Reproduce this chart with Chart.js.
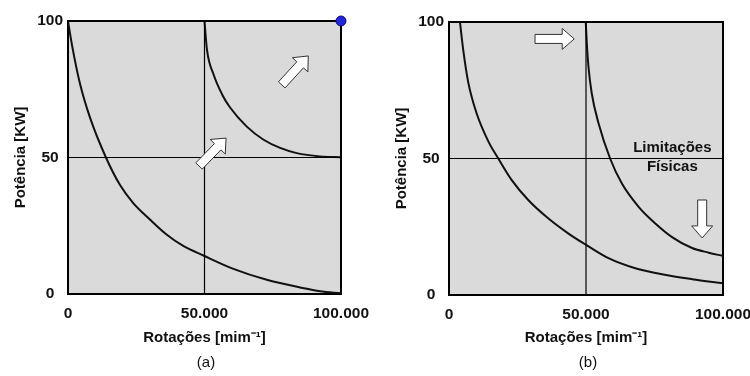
<!DOCTYPE html>
<html>
<head>
<meta charset="utf-8">
<script src="https://cdn.jsdelivr.net/npm/chart.js@4"></script>
<style>
  html, body { margin: 0; padding: 0; background: #fff; }
  #wrap { position: relative; width: 750px; height: 376px; }
  .panel { position: absolute; top: 0; width: 375px; height: 376px; }
  .cap { position: absolute; top: 353px; width: 60px; text-align: center; line-height: 18px;
         font: 15px 'Liberation Sans', Arial, sans-serif; color: #111; }
</style>
</head>
<body>
<div id="wrap">
  <div class="panel" style="left:0"><canvas id="chartA" width="375" height="376"></canvas></div>
  <div class="panel" style="left:375px"><canvas id="chartB" width="375" height="376"></canvas></div>
  <div class="cap" style="left:176px">(a)</div>
  <div class="cap" style="left:558px">(b)</div>
</div>
<script>
// axis ticks
const xTicks = [0, 50000, 100000];
const yTicks = [0, 50, 100];

// (a) curves
const curveA1X = [0, 1500, 4400, 8100, 13900, 19000, 23900, 30000, 36100, 42200, 49800, 60600, 72800, 85000, 92300, 100000];
const curveA1Y = [100, 91, 77, 64.5, 50, 40, 33.3, 27.3, 21.8, 17.6, 14.0, 9.2, 5.2, 2.4, 1.0, 0.3];
const curveA2X = [50000, 50900, 53300, 56500, 59300, 65500, 71500, 77700, 83800, 92300, 100000];
const curveA2Y = [100, 89.5, 80.5, 73, 68.4, 61.3, 56.6, 53.5, 51.6, 50.4, 50.1];

// (b) curves
const curveB1X = [4000, 5200, 7100, 10100, 14400, 18000, 22900, 29000, 36300, 43600, 50300, 58200, 68000, 77700, 88700, 100000];
const curveB1Y = [100, 89.7, 77.5, 66.5, 56.2, 50.0, 42.1, 34.7, 28.0, 22.5, 18.2, 13.5, 9.8, 7.6, 5.8, 4.3];
const curveB2X = [49900, 50300, 50900, 52100, 54600, 58800, 63100, 69200, 75300, 81400, 88700, 94800, 100000];
const curveB2Y = [100, 92.2, 83.6, 73.8, 62.8, 50.0, 40.8, 32.3, 26.2, 21.2, 17.2, 15.5, 14.3];

// reference lines (x = 50.000, y = 50)
const refX = 50000;
const refY = 50;

// marker at max point in (a)
const markerA = [{ x: 100000, y: 100 }];

// arrows: [x tail, y tail, x tip, y tip] in data units
const arrowsA = [[48000, 46.9, 57900, 57.1], [78300, 76.6, 88000, 87.2]];
const arrowsB = [[31400, 93.8, 45700, 93.8], [92400, 34.8, 92400, 20.9]];

// labels in (b)
const notesB = [{ text: 'Limitações', x: 81500, y: 53.8 }, { text: 'Físicas', x: 81500, y: 46.9 }];

const FONT = "'Liberation Sans', Arial, sans-serif";
const toPts = (xs, ys) => xs.map((x, i) => ({ x, y: ys[i] }));
const fmt = v => String(v).replace(/\B(?=(\d{3})+(?!\d))/g, '.');

function drawArrow(ctx, x1, y1, x2, y2) {
  const len = Math.hypot(x2 - x1, y2 - y1);
  const ux = (x2 - x1) / len, uy = (y2 - y1) / len;
  const nx = -uy, ny = ux;
  const bw = 4.5, hw = 10.5, hl = 12;
  const bx = x2 - ux * hl, by = y2 - uy * hl;
  ctx.beginPath();
  ctx.moveTo(x1 + nx * bw, y1 + ny * bw);
  ctx.lineTo(bx + nx * bw, by + ny * bw);
  ctx.lineTo(bx + nx * hw, by + ny * hw);
  ctx.lineTo(x2, y2);
  ctx.lineTo(bx - nx * hw, by - ny * hw);
  ctx.lineTo(bx - nx * bw, by - ny * bw);
  ctx.lineTo(x1 - nx * bw, y1 - ny * bw);
  ctx.closePath();
  ctx.fillStyle = '#fff';
  ctx.fill();
  ctx.strokeStyle = '#333';
  ctx.lineWidth = 1;
  ctx.stroke();
}

const decor = {
  id: 'decor',
  beforeDatasetsDraw(chart) {
    const { ctx, chartArea: a } = chart;
    ctx.save();
    ctx.fillStyle = '#dadada';
    ctx.fillRect(a.left, a.top, a.right - a.left, a.bottom - a.top);
    ctx.strokeStyle = '#000';
    ctx.lineWidth = 2;
    ctx.strokeRect(a.left, a.top, a.right - a.left, a.bottom - a.top);
    ctx.restore();
  },
  afterDatasetsDraw(chart, args, opts) {
    const { ctx, scales: { x, y } } = chart;
    ctx.save();
    (opts.arrows || []).forEach(a => {
      drawArrow(ctx, x.getPixelForValue(a[0]), y.getPixelForValue(a[1]),
                x.getPixelForValue(a[2]), y.getPixelForValue(a[3]));
    });
    ctx.fillStyle = '#111';
    ctx.font = 'bold 15px ' + FONT;
    ctx.textAlign = 'center';
    ctx.textBaseline = 'middle';
    (opts.notes || []).forEach(n => {
      ctx.fillText(n.text, x.getPixelForValue(n.x), y.getPixelForValue(n.y));
    });
    ctx.restore();
  }
};

function curve(xs, ys) {
  return { data: toPts(xs, ys), showLine: true, borderColor: '#111', borderWidth: 2,
           pointRadius: 0, cubicInterpolationMode: 'monotone' };
}
function refLines() {
  return [
    { data: [{ x: refX, y: 0 }, { x: refX, y: 100 }], showLine: true, borderColor: '#000', borderWidth: 1.2, pointRadius: 0 },
    { data: [{ x: 0, y: refY }, { x: 100000, y: refY }], showLine: true, borderColor: '#000', borderWidth: 1.2, pointRadius: 0 },
  ];
}

function makeChart(id, cfg) {
  const tickFont = { family: FONT, size: 15.5, weight: 'bold' };
  return new Chart(document.getElementById(id), {
    type: 'scatter',
    data: { datasets: cfg.datasets },
    options: {
      responsive: false,
      animation: false,
      events: [],
      layout: { padding: { top: cfg.top, right: cfg.right, left: 0, bottom: 29 } },
      plugins: {
        legend: { display: false },
        tooltip: { enabled: false },
        decor: { arrows: cfg.arrows, notes: cfg.notes },
      },
      scales: {
        x: {
          type: 'linear', min: 0, max: 100000,
          afterBuildTicks: s => { s.ticks = xTicks.map(v => ({ value: v })); },
          afterFit: s => { s.height = 347 - cfg.bottom; s.paddingLeft = 0; s.paddingRight = 0; },
          grid: { display: false, drawTicks: false },
          border: { display: false },
          ticks: { color: '#111', font: tickFont, padding: 10, maxRotation: 0, callback: v => fmt(v) },
          title: { display: true, text: 'Rotações [mim⁻¹]', color: '#111',
                   font: { family: FONT, size: 15, weight: 'bold' }, padding: 0 },
        },
        y: {
          type: 'linear', min: 0, max: 100,
          afterBuildTicks: s => { s.ticks = yTicks.map(v => ({ value: v })); },
          afterFit: s => { s.width = cfg.left; },
          grid: { display: false, drawTicks: false },
          border: { display: false },
          ticks: { color: '#111', font: tickFont, padding: 5, crossAlign: 'center' },
          title: { display: true, text: 'Potência [KW]', color: '#111',
                   font: { family: FONT, size: 15, weight: 'bold' }, padding: { top: cfg.titlePad, bottom: 0 } },
        },
      },
    },
    plugins: [decor],
  });
}

makeChart('chartA', {
  top: 21, right: 34, left: 68, bottom: 294, titlePad: 12,
  datasets: [
    ...refLines(),
    curve(curveA1X, curveA1Y),
    curve(curveA2X, curveA2Y),
    { data: markerA, pointRadius: 5, backgroundColor: '#2424d8', borderColor: '#0a0a7a', borderWidth: 1, clip: false },
  ],
  arrows: arrowsA,
});

makeChart('chartB', {
  top: 22, right: 27, left: 74, bottom: 295, titlePad: 18,
  datasets: [
    ...refLines(),
    curve(curveB1X, curveB1Y),
    curve(curveB2X, curveB2Y),
  ],
  arrows: arrowsB,
  notes: notesB,
});
</script>
</body>
</html>
